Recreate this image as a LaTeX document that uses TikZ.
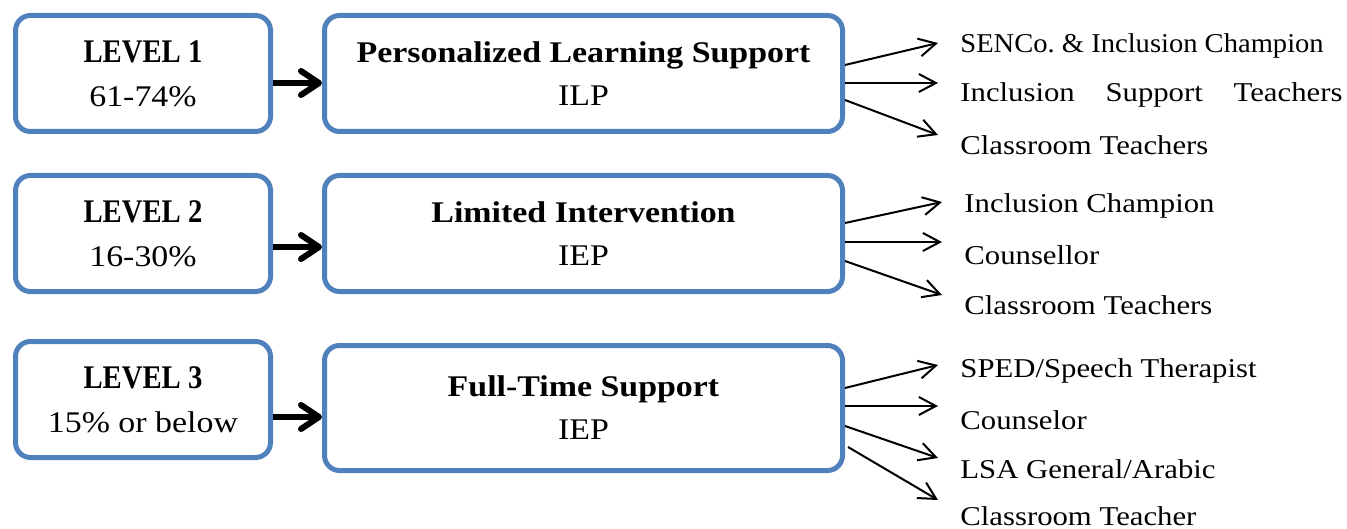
\documentclass[tikz,border=0pt]{standalone}
\usepackage{fontspec}
\setmainfont{Liberation Serif}[FakeStretch=1.13]
\newfontfamily\narrowfont{Liberation Serif}[FakeStretch=0.87]
\newfontfamily\tightfont{Liberation Serif}[FakeStretch=1.05]
\usepackage{tikz}
\usetikzlibrary{
  arrows.meta,
  positioning,
}
\frenchspacing
\definecolor{boxblue}{HTML}{4F81BD}
\newcommand{\levelname}[1]{{\narrowfont\bfseries\fontsize{16.5}{22}\selectfont #1}}
\tikzset{
  levelbox/.style={
    rectangle,
    rounded corners=7.5pt,
    minimum width=127.5pt,
    minimum height=58pt,
    align=center,
    draw=boxblue,
    line width=2.5pt,
    font=\fontsize{15}{22}\selectfont
  },
  supportbox/.style={
    rectangle,
    rounded corners=7.5pt,
    minimum width=259pt,
    minimum height=58pt,
    align=center,
    draw=boxblue,
    line width=2.5pt,
    font=\fontsize{15}{21.5}\selectfont
  },
  staff/.style={
    anchor=base west,
    inner sep=0pt,
    font=\fontsize{13.6}{16}\selectfont
  },
  thickarrow/.style={
    line width=3pt,
    -{Straight Barb[length=9pt, width=12pt, round]},
  },
  thinarrow/.style={
    line width=1pt,
    -{Straight Barb[length=8.5pt, width=9pt]},
  },
}

\begin{document}
\begin{tikzpicture}[
    node distance=19.5pt and 24.5pt,
  ]
  \useasboundingbox (0,0) rectangle (673.5pt,-264.5pt);

  % Levels
  \node (lvlA) [levelbox] at (71.5pt,-36.75pt) {\levelname{LEVEL 1}\\61-74\%};
  \node (lvlB) [levelbox, below=of lvlA] {\levelname{LEVEL 2}\\16-30\%};
  \node (lvlC) [levelbox, below=22.5pt of lvlB] {\levelname{LEVEL 3}\\15\% or below};

  % Support
  \node (supA) [supportbox, right=of lvlA] {\textbf{Personalized Learning Support}\\ILP};
  \node (supB) [supportbox, right=of lvlB] {\textbf{Limited Intervention}\\IEP};
  \node (supC) [supportbox, right=of lvlC, minimum height=62.5pt, yshift=-4.25pt]
  {\textbf{Full-Time Support}\\IEP};

  % Staff
  \node (staffA1) [staff] at (480pt,-26.5pt) {\tightfont SENCo. \& Inclusion Champion};
  \node (staffA2) [staff] at (480pt,-51pt) {\makebox[191pt][s]{Inclusion Support Teachers}};
  \node (staffA3) [staff] at (480pt,-77.5pt) {Classroom Teachers};
  \node (staffB1) [staff] at (482pt,-106.5pt) {Inclusion Champion};
  \node (staffB2) [staff] at (482pt,-132pt) {Counsellor};
  \node (staffB3) [staff] at (482pt,-157pt) {Classroom Teachers};
  \node (staffC1) [staff] at (480pt,-188.5pt) {SPED/Speech Therapist};
  \node (staffC2) [staff] at (480pt,-214.5pt) {Counselor};
  \node (staffC3) [staff] at (480pt,-239pt) {LSA General/Arabic};
  \node (staffC4) [staff] at (480pt,-262.5pt) {Classroom Teacher};

  % Arrow ends
  \coordinate (endA1) at (469pt,-21.5pt);
  \coordinate (endA2) at (469pt,-41.5pt);
  \coordinate (endA3) at (469pt,-67.5pt);
  \coordinate (endB1) at (471pt,-101pt);
  \coordinate (endB2) at (471pt,-121pt);
  \coordinate (endB3) at (471pt,-147.5pt);
  \coordinate (endC1) at (469pt,-182.5pt);
  \coordinate (endC2) at (469pt,-203pt);
  \coordinate (endC3) at (469pt,-229pt);
  \coordinate (endC4) at (469pt,-250pt);

  % Arrows
  \draw [thickarrow] ([yshift=-4.75pt]lvlA.east) -- ([yshift=-4.75pt]lvlA.east -| supA.west);
  \draw [thickarrow] ([yshift=-6.75pt]lvlB.east) -- ([yshift=-6.75pt]lvlB.east -| supB.west);
  \draw [thickarrow] ([yshift=-8.75pt]lvlC.east) -- ([yshift=-8.75pt]lvlC.east -| supC.west);

  \draw [thinarrow] ([yshift=4.25pt]supA.east) -- (endA1);
  \draw [thinarrow] ([yshift=-4.75pt]supA.east) -- (endA2);
  \draw [thinarrow] ([yshift=-13.25pt]supA.east) -- (endA3);

  \draw [thinarrow] ([yshift=5.25pt]supB.east) -- (endB1);
  \draw [thinarrow] ([yshift=-4.25pt]supB.east) -- (endB2);
  \draw [thinarrow] ([yshift=-13.75pt]supB.east) -- (endB3);

  \draw [thinarrow] ([yshift=10pt]supC.east) -- (endC1);
  \draw [thinarrow] ([yshift=1pt]supC.east) -- (endC2);
  \draw [thinarrow] ([yshift=-9pt]supC.east) -- (endC3);
  \draw [thinarrow] ([xshift=1.5pt,yshift=-19.5pt]supC.east) -- (endC4);

\end{tikzpicture}
\end{document}
